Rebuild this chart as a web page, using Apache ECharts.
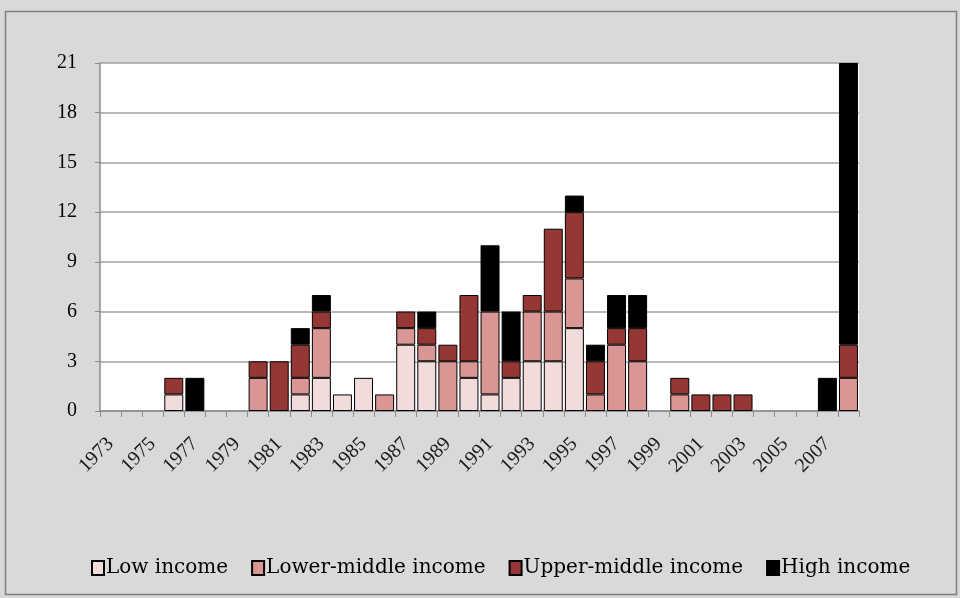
<!DOCTYPE html>
<html>
<head>
<meta charset="utf-8">
<script src="https://cdn.jsdelivr.net/npm/echarts@6/dist/echarts.min.js"></script>
<style>
  html, body { margin: 0; padding: 0; background: #ffffff; }
  #chart { width: 960px; height: 598px; }
</style>
</head>
<body>
<div id="chart"></div>
<script>
// Years on the category axis
const years = [];
for (let y = 1973; y <= 2008; y++) years.push(String(y));

// Counts per year by income group (0 where nothing occurred)
const lowIncome = [0,0,0,1,0,0,0,0,0,1,2,1,2,0,4,3,0,2,1,2,3,3,5,0,0,0,0,0,0,0,0,0,0,0,0,0];
const lowerMiddleIncome = [0,0,0,0,0,0,0,2,0,1,3,0,0,1,1,1,3,1,5,0,3,3,3,1,4,3,0,1,0,0,0,0,0,0,0,2];
const upperMiddleIncome = [0,0,0,1,0,0,0,1,3,2,1,0,0,0,1,1,1,4,0,1,1,5,4,2,1,2,0,1,1,1,1,0,0,0,0,2];
const highIncome = [0,0,0,0,2,0,0,0,0,1,1,0,0,0,0,1,0,0,4,3,0,0,1,1,2,2,0,0,0,0,0,0,0,0,2,17];

const seriesNames = ['Low income', 'Lower-middle income', 'Upper-middle income', 'High income'];
const seriesColors = ['#f2dcdb', '#d99694', '#953735', '#000000'];
const seriesData = [lowIncome, lowerMiddleIncome, upperMiddleIncome, highIncome];

const axisFont = '"Liberation Serif", "DejaVu Serif", serif';
const legendFont = '"DejaVu Serif", "Liberation Serif", serif';

const chart = echarts.init(document.getElementById('chart'), null, { renderer: 'canvas' });

chart.setOption({
  backgroundColor: '#d9d9d9',
  animation: false,
  textStyle: { fontFamily: axisFont },
  graphic: [{
    type: 'rect',
    shape: { x: 5.5, y: 11.5, width: 951, height: 583 },
    style: { fill: 'none', stroke: '#7f7f7f', lineWidth: 1.5 },
    silent: true,
    z: -1
  }],
  grid: { left: 100, right: 101, top: 63, bottom: 187, backgroundColor: '#ffffff', show: true, borderWidth: 0 },
  legend: {
    bottom: 15,
    left: 86,
    itemWidth: 12,
    itemHeight: 14,
    itemGap: 23,
    icon: 'rect',
    textStyle: { fontFamily: legendFont, fontSize: 20, color: '#000000', padding: [0, 0, 0, -3] },
    data: seriesNames
  },
  xAxis: {
    type: 'category',
    data: years,
    boundaryGap: true,
    axisLine: { lineStyle: { color: '#8c8c8c', width: 1.5 } },
    axisTick: { show: true, alignWithLabel: false, interval: 0, length: 6, lineStyle: { color: '#8c8c8c' } },
    axisLabel: {
      interval: 1,
      rotate: 45,
      fontFamily: axisFont,
      fontSize: 20,
      color: '#1a1a1a',
      margin: 30
    }
  },
  yAxis: {
    type: 'value',
    min: 0,
    max: 21,
    interval: 3,
    axisLine: { show: true, lineStyle: { color: '#8c8c8c', width: 1.5 } },
    axisTick: { show: true, length: 5, lineStyle: { color: '#8c8c8c' } },
    axisLabel: { fontFamily: axisFont, fontSize: 20, color: '#000000', margin: 23 },
    splitLine: { lineStyle: { color: '#a0a0a0', width: 1.5 } }
  },
  series: seriesData.map((d, i) => ({
    name: seriesNames[i],
    type: 'bar',
    stack: 'total',
    barCategoryGap: '10%',
    data: d.map(v => (v === 0 ? null : v)),
    itemStyle: { color: seriesColors[i], borderColor: '#000000', borderWidth: 1 }
  }))
});
</script>
</body>
</html>
